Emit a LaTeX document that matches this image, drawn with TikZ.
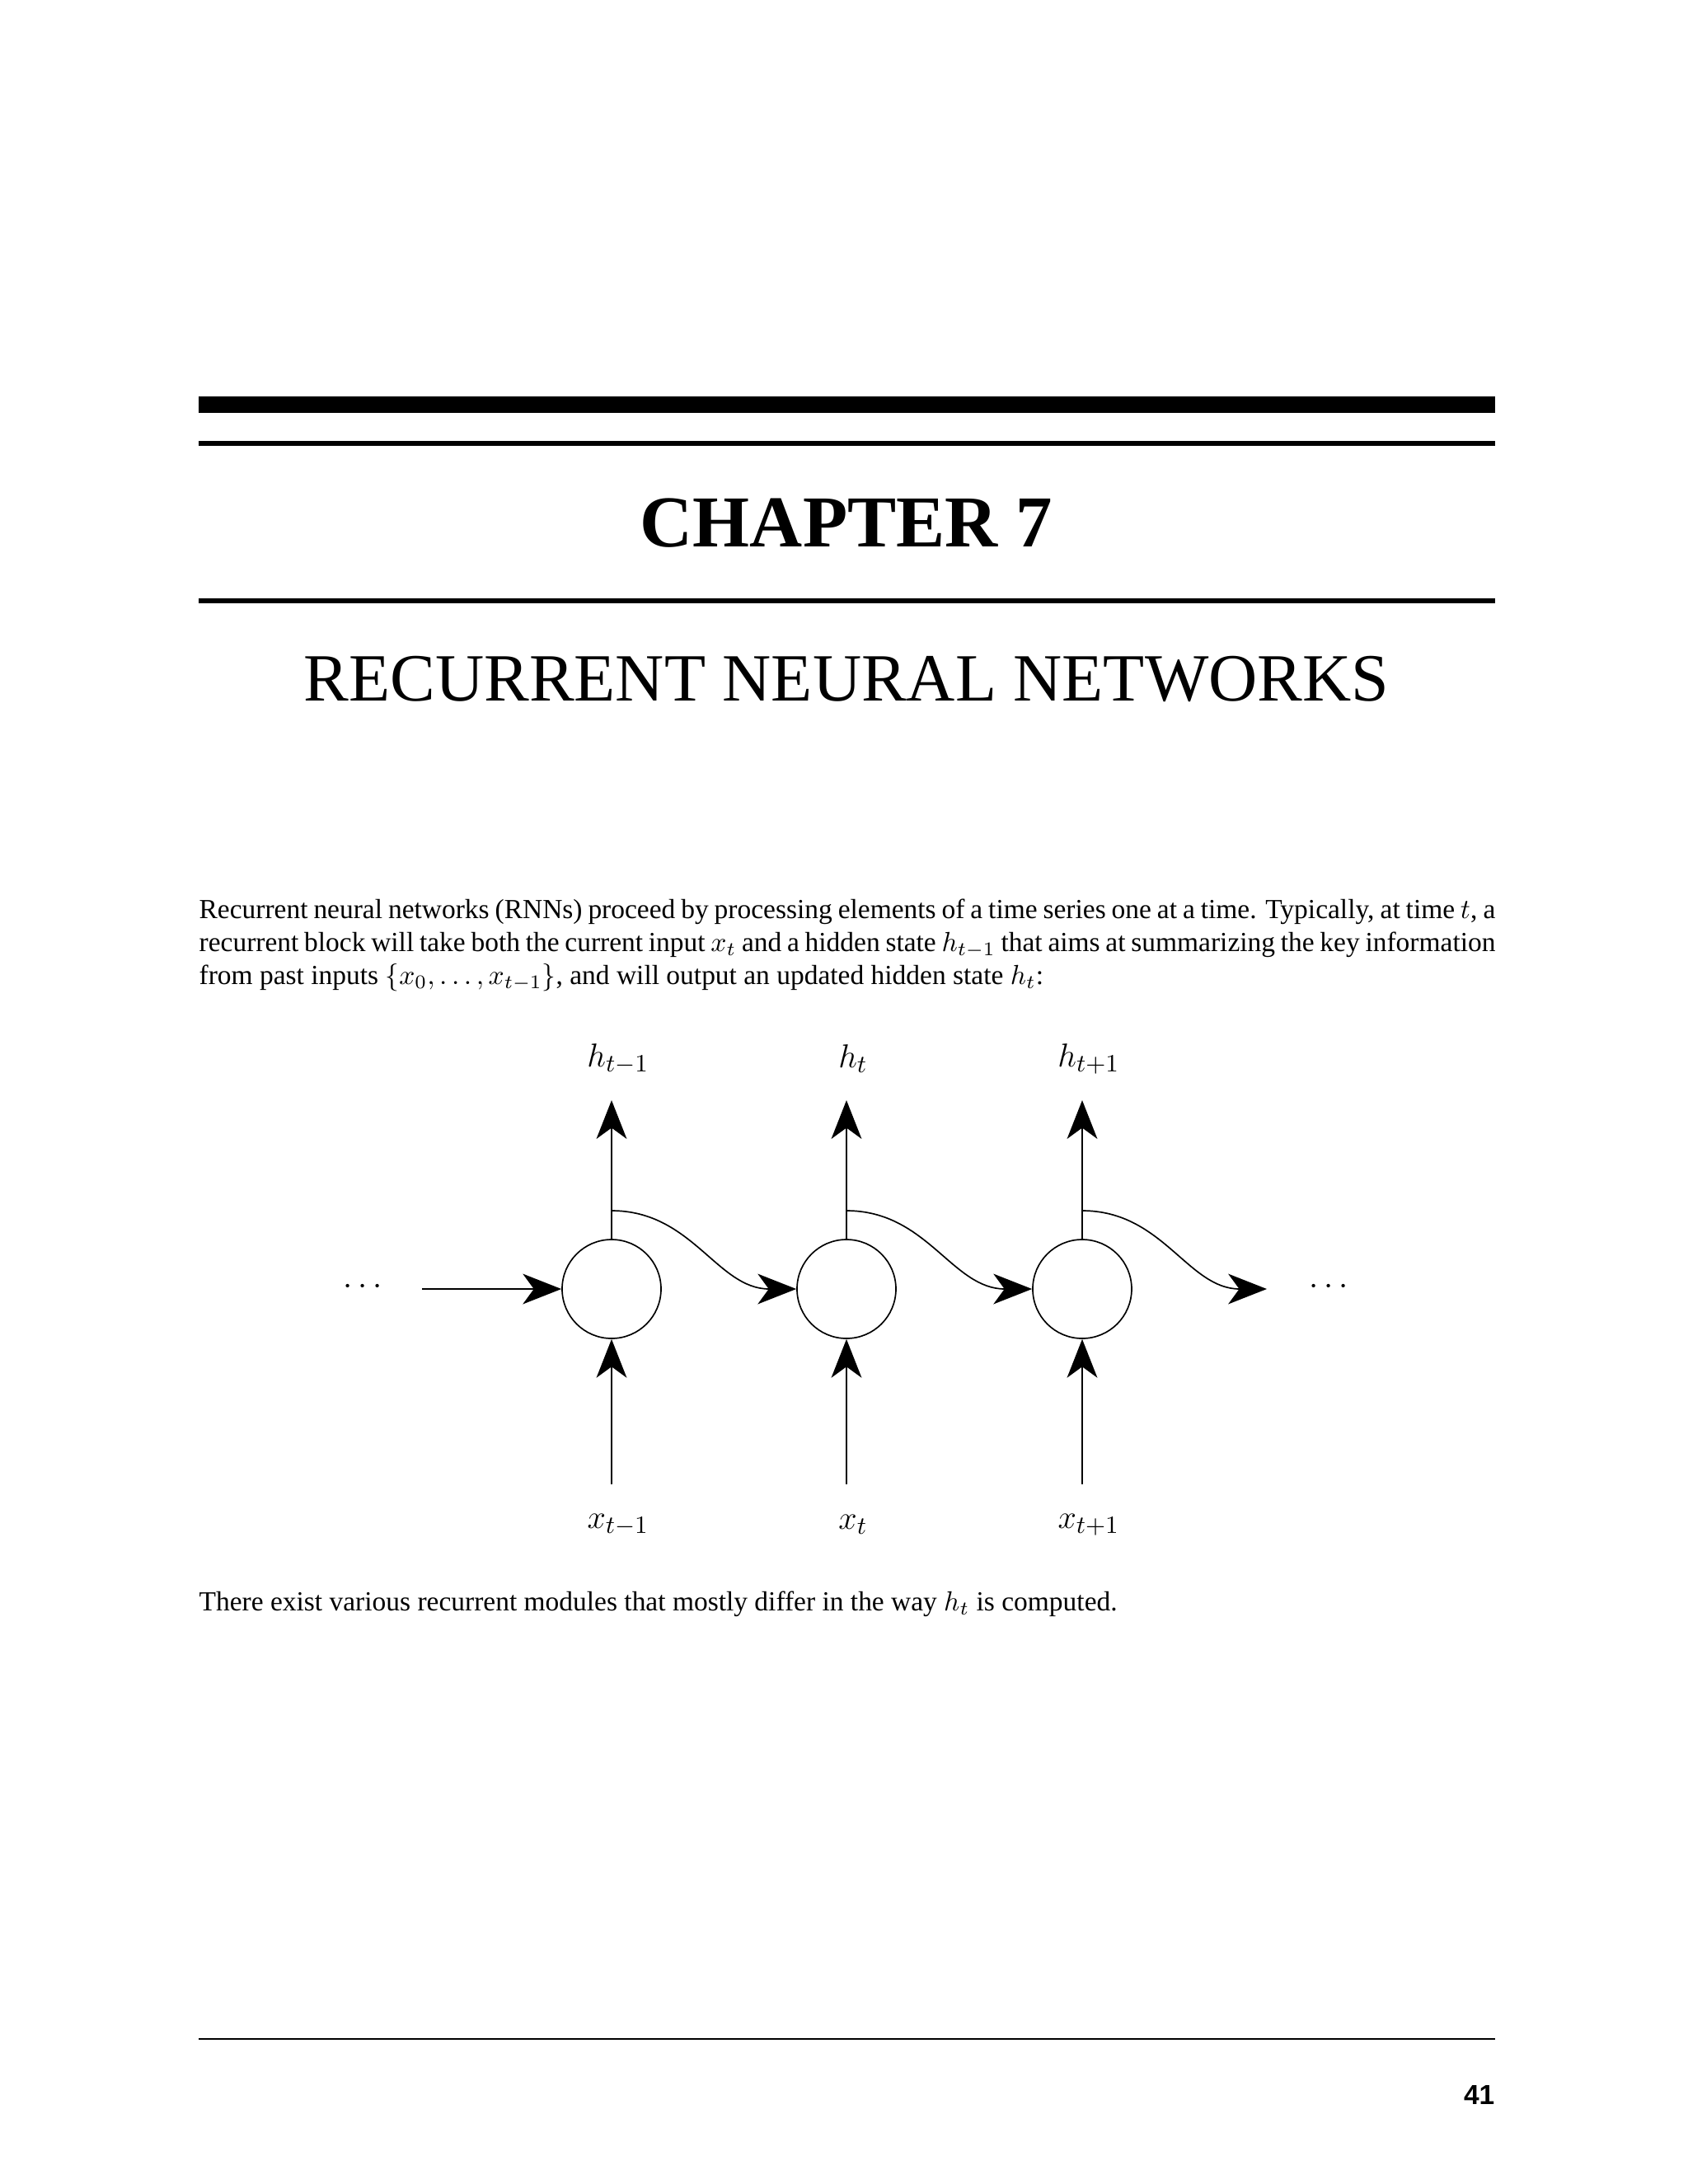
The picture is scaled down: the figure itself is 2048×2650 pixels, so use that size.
\documentclass[tikz,border=0pt]{standalone}
\usepackage{fontspec}
\setmainfont{Liberation Serif}
\newfontfamily\pgnum{Liberation Sans}
\usetikzlibrary{arrows.meta}
\begin{document}
\begin{tikzpicture}[x=0.29883pt,y=-0.29883pt,
  tip/.style={-{Stealth[length=14pt,width=11pt,inset=4pt]}},
  cell/.style={draw,circle,minimum size=120*0.29883pt,inner sep=0pt,line width=0.5pt},
  lab/.style={font=\fontsize{13}{15}\selectfont},
  thin/.style={line width=0.5pt}]
\useasboundingbox (0,0) rectangle (2048,2650);
\fill (241,481) rectangle (1814,501);
\fill (241,535) rectangle (1814,541);
\fill (241,726) rectangle (1814,732);
\node[font=\bfseries\fontsize{26.5}{30}\selectfont] (ch) at (1027,635) {CHAPTER 7};
\node[font=\fontsize{24.5}{28}\selectfont] (ti) at (1027,824) {RECURRENT NEURAL NETWORKS};
\node[anchor=north west,text width=470pt,align=justify,inner sep=0pt,font=\fontsize{10}{12}\selectfont] (p1) at (241,1090)
{Recurrent neural networks (RNNs) proceed by processing elements of a time series one at a time. Typically, at time $t$, a recurrent block will take both the current input $x_t$ and a hidden state $h_{t-1}$ that aims at summarizing the key information from past inputs $\{x_0,\ldots,x_{t-1}\}$, and will output an updated hidden state $h_t$:};
\node[anchor=base west,inner sep=0pt,font=\fontsize{10}{12}\selectfont] (p2) at (241,1954)
{There exist various recurrent modules that mostly differ in the way $h_t$ is computed.};
\draw[line width=0.4pt] (241,2474) -- (1814,2474);
\node[anchor=base east,inner sep=0pt,font=\pgnum\bfseries\fontsize{10}{12}\selectfont] (pn) at (1814,2553) {41};
% diagram
\foreach \i/\x/\hl/\xl in {a/742/h_{t-1}/x_{t-1},b/1027/h_t/x_t,c/1313/h_{t+1}/x_{t+1}}{
  \node[cell] (\i) at (\x,1564) {};
  \node[lab] (h\i) at (\x+8,1285) {$\hl$};
  \node[lab] (x\i) at (\x+8,1850) {$\xl$};
  \coordinate (top\i) at (\x,1335);
  \coordinate (br\i) at (\x,1469);
  \coordinate (bot\i) at (\x,1801);
  \draw[thin,tip] (\i.north) -- (top\i);
  \draw[thin,tip] (bot\i) -- (\i.south);
}
\node[lab] (dl) at (440,1562) {$\cdots$};
\node[lab] (dr) at (1612,1562) {$\cdots$};
\coordinate (st) at (512,1564);
\coordinate (en) at (1537,1564);
\draw[thin,tip] (st) -- (a.west);
\draw[thin,tip] (bra) .. controls (840,1469) and (870,1564) .. (b.west);
\draw[thin,tip] (brb) .. controls (1125,1469) and (1155,1564) .. (c.west);
\draw[thin,tip] (brc) .. controls (1411,1469) and (1441,1564) .. (en);
\end{tikzpicture}
\end{document}
